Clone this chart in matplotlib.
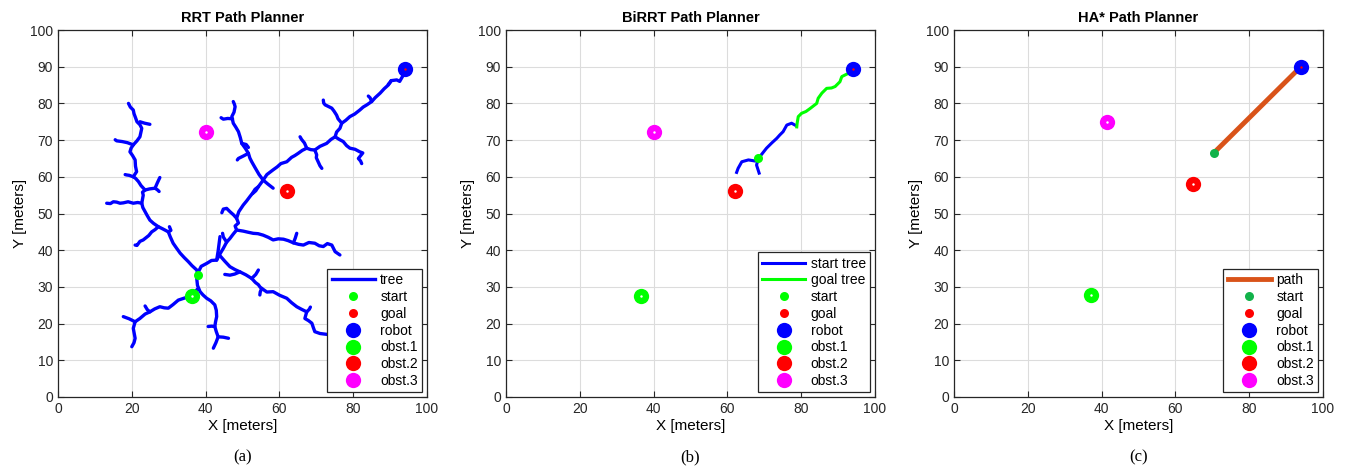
import numpy as np
import matplotlib.pyplot as plt
from matplotlib.lines import Line2D

plt.rcParams['font.family'] = ['Liberation Sans', 'DejaVu Sans']

# obstacle / robot / goal positions per planner
robot = [(94.0, 89.4), (94.1, 89.4), (94.0, 90.0)]
start = [(38.0, 33.2), (68.4, 65.0), (70.5, 66.6)]
goal = [(62.0, 56.0), (62.0, 56.0), (64.9, 58.1)]
obst1 = [(36.2, 27.6), (36.5, 27.5), (37.0, 27.8)]
obst2 = goal
obst3 = [(40.0, 72.2), (40.0, 72.2), (41.4, 75.0)]

# RRT tree branches (x list, y list)
rrt_branches = [
    # start -> north-west trunk
    ([38.0, 37.6, 36.3, 35.3, 34.2, 33.1, 32.1, 31.2, 30.4, 29.9, 28.4, 27.2, 25.9, 24.9, 24.2, 23.6, 23.0, 22.7, 23.1, 22.9,
      23.6, 22.5, 21.8, 21.0, 20.4, 21.3, 21.0, 20.9, 20.2, 19.5, 19.8, 20.4, 21.4, 22.2, 22.7, 22.2, 21.4, 20.9, 20.6, 20.4, 19.6, 19.1],
     [33.2, 34.6, 35.8, 36.9, 38.0, 39.2, 40.6, 41.9, 43.7, 45.0, 45.8, 46.4, 47.3, 48.2, 49.4, 50.5, 51.6, 52.8, 55.0, 55.8,
      56.4, 57.6, 58.7, 59.6, 60.0, 61.4, 62.9, 64.6, 65.8, 66.8, 67.8, 68.7, 69.8, 70.9, 73.2, 74.2, 75.0, 76.4, 77.2, 78.2, 79.0, 80.0]),
    ([27.2, 26.3, 25.4, 24.6, 23.1, 22.2, 21.4, 20.9], [46.4, 45.6, 45.0, 44.0, 42.8, 42.4, 41.3, 41.4]),
    ([29.9, 30.6, 30.2], [45.0, 45.4, 46.4]),
    ([22.7, 21.6, 20.4, 19.0, 17.7, 16.8, 15.9, 15.0, 14.2, 13.2], [52.8, 53.0, 52.8, 53.2, 52.9, 52.8, 53.1, 53.2, 52.7, 52.8]),
    ([23.6, 24.8, 26.3, 26.9, 27.6], [56.4, 56.7, 56.9, 58.3, 59.8]),
    ([26.3, 27.0, 27.4], [56.9, 56.4, 56.0]),
    ([20.4, 19.3, 18.6, 18.2], [60.0, 60.4, 60.5, 60.6]),
    ([20.4, 18.8, 17.4, 15.9, 15.5], [68.7, 69.3, 69.6, 69.8, 70.1]),
    ([22.2, 23.5, 24.9], [75.0, 74.6, 74.3]),
    # start -> south
    ([38.0, 37.6, 37.8, 38.5, 39.3, 40.3, 41.4, 42.5, 42.9, 43.0, 42.7, 42.5, 42.9, 43.4, 42.8, 42.1],
     [33.2, 32.3, 30.4, 28.7, 27.8, 26.9, 26.2, 25.1, 23.6, 21.9, 20.5, 19.2, 17.8, 16.4, 14.8, 13.3]),
    ([42.5, 41.6, 40.7], [19.2, 19.3, 19.2]),
    ([43.4, 44.8, 46.2], [16.4, 16.3, 16.0]),
    # through obst.1 -> south-west
    ([37.8, 36.2, 34.4, 32.6, 31.2, 29.9, 28.8, 27.6, 26.2, 24.9, 23.6, 22.2, 20.9, 19.3, 17.7],
     [29.4, 27.6, 27.0, 26.4, 25.2, 24.2, 24.3, 24.6, 24.0, 23.2, 22.6, 21.4, 20.5, 21.3, 21.9]),
    ([24.9, 24.2, 23.6], [23.2, 23.8, 24.8]),
    ([20.9, 20.4, 20.9, 20.6, 20.0], [20.5, 18.7, 16.0, 14.8, 13.7]),
    # start -> east, main trunk up to the robot
    ([38.0, 38.8, 40.3, 41.6, 43.0, 43.9, 44.8, 45.7, 46.6, 47.5, 48.4, 48.0, 48.9, 48.4, 49.0, 50.2, 51.1, 52.0, 52.7, 53.4,
      54.3, 55.1, 55.6, 56.6, 58.3, 59.4, 60.4, 62.0, 63.3, 64.2, 65.1, 66.2, 67.4, 68.5, 69.6, 71.0, 72.8, 74.0, 75.1, 75.5,
      76.4, 76.9, 78.0, 79.1, 80.4, 81.8, 82.7, 83.7, 85.0, 86.0, 87.3, 88.4, 89.5, 90.3, 91.8, 92.6, 93.4, 94.0],
     [34.0, 35.6, 36.4, 37.2, 37.3, 39.0, 40.5, 42.2, 43.2, 44.4, 45.5, 46.6, 47.4, 48.7, 50.5, 52.3, 53.4, 54.6, 55.5, 56.6,
      57.3, 58.4, 59.1, 60.6, 61.9, 62.7, 63.6, 64.1, 65.3, 65.8, 66.4, 67.2, 67.8, 67.4, 67.3, 68.3, 69.1, 70.2, 70.9, 72.2,
      73.2, 74.6, 75.4, 76.4, 77.1, 78.2, 79.0, 79.6, 80.5, 81.6, 82.8, 84.0, 85.0, 86.2, 86.4, 86.0, 87.4, 89.3]),
    ([43.0, 43.4, 43.9], [37.3, 39.8, 43.7]),
    ([48.4, 47.6, 46.6, 45.7, 44.8, 44.4], [48.7, 49.6, 50.5, 51.4, 51.2, 50.2]),
    ([45.7, 44.8, 44.6], [42.2, 43.6, 44.6]),
    # east branch
    ([48.4, 50.2, 51.5, 52.9, 54.2, 55.6, 57.0, 58.3, 59.7, 61.1, 62.4, 63.8, 65.2, 66.5, 68.0, 69.6, 70.8, 71.9, 73.0, 74.2, 75.1, 76.4],
     [45.5, 45.2, 44.9, 44.6, 44.5, 44.1, 43.5, 42.8, 43.1, 43.0, 42.6, 42.0, 41.6, 41.4, 42.1, 41.9, 41.2, 41.0, 41.8, 41.4, 39.6, 38.7]),
    ([63.8, 64.3, 64.7], [42.0, 43.3, 44.6]),
    # south-east branch
    ([43.9, 45.2, 46.6, 48.0, 49.3, 50.9, 52.5, 53.5, 54.3, 54.8, 55.2, 56.6, 58.3, 60.1, 62.0, 63.3, 64.7, 66.0, 67.4, 66.9,
      67.9, 68.8, 69.2, 69.6, 71.0, 72.6, 74.2, 76.0, 78.0],
     [38.5, 37.0, 35.5, 34.7, 34.1, 33.3, 32.3, 31.2, 30.6, 29.9, 29.6, 28.6, 28.7, 27.7, 26.9, 25.7, 24.6, 23.9, 23.2, 21.4,
      20.8, 20.1, 18.9, 17.8, 17.3, 17.1, 16.9, 16.3, 15.6]),
    ([49.3, 47.9, 46.6, 45.2], [34.1, 33.5, 33.2, 33.4]),
    ([52.5, 53.6, 54.3], [32.3, 33.4, 34.6]),
    ([55.2, 54.8, 54.7], [29.6, 28.6, 27.8]),
    ([67.4, 68.1, 68.4], [23.2, 23.9, 24.5]),
    # north-west branch from the trunk junction
    ([55.6, 54.5, 53.4, 52.5, 52.0, 51.6, 50.8, 49.8, 49.4, 48.9, 48.2, 47.5, 47.1, 47.7, 48.0, 47.8, 47.5],
     [59.1, 60.6, 62.5, 64.1, 65.1, 66.4, 67.7, 69.1, 70.7, 72.3, 73.5, 74.6, 76.4, 77.6, 79.1, 79.8, 80.5]),
    ([51.6, 50.3, 48.9, 48.6], [66.4, 65.7, 65.0, 64.6]),
    ([47.3, 46.0, 44.8, 44.2], [75.8, 75.9, 75.7, 76.1]),
    ([49.8, 51.0, 51.6], [69.1, 68.8, 68.0]),
    ([55.6, 56.9, 58.3], [59.1, 58.0, 56.9]),
    ([54.3, 53.6, 52.7], [57.3, 56.2, 55.4]),
    # branches near the robot trunk
    ([67.4, 66.8, 66.0, 65.6], [67.8, 69.2, 70.2, 70.9]),
    ([69.6, 70.1, 70.0, 70.5, 71.0, 71.5], [67.3, 66.0, 65.2, 64.1, 63.0, 62.3]),
    ([76.9, 75.9, 75.5, 74.8, 74.2, 73.2, 72.4, 72.0, 71.9], [74.6, 75.8, 76.8, 77.9, 78.7, 79.2, 79.6, 80.1, 80.9]),
    ([75.1, 76.2, 77.3, 78.2, 79.1, 80.5, 81.8, 82.6, 81.4, 82.0, 82.3], [70.9, 70.2, 69.6, 68.5, 67.8, 67.5, 66.8, 66.5, 65.0, 64.3, 63.6]),
    ([85.0, 84.6, 84.1], [80.5, 81.5, 82.0]),
    ([90.3, 89.9, 89.5], [86.2, 85.6, 85.2]),
]

# BiRRT trees
birrt_start_x = [78.3, 77.4, 76.1, 75.1, 74.2, 73.4, 72.0, 70.6, 69.5, 68.4, 67.5, 65.7, 63.9, 62.9, 62.5]
birrt_start_y = [74.1, 74.6, 74.1, 72.3, 71.4, 70.5, 69.2, 67.8, 66.4, 65.0, 64.3, 64.6, 64.1, 62.3, 61.2]
birrt_start_br_x = [68.4, 67.9, 68.6]
birrt_start_br_y = [65.0, 63.2, 61.0]
birrt_goal_x = [78.8, 78.9, 79.2, 80.1, 81.3, 82.4, 84.2, 84.6, 85.6, 86.9, 88.2, 89.2, 90.5, 91.0, 92.8, 94.1]
birrt_goal_y = [73.6, 74.6, 76.4, 77.3, 77.8, 78.6, 80.0, 81.4, 82.8, 84.1, 84.2, 84.6, 85.9, 87.3, 88.2, 89.4]

# HA* path
ha_path_x = [70.5, 94.0]
ha_path_y = [66.6, 90.0]

titles = ['RRT Path Planner', 'BiRRT Path Planner', 'HA* Path Planner']
captions = ['(a)', '(b)', '(c)']

fig = plt.figure(figsize=(13.47, 4.75), dpi=100)
lefts = [58 / 1347, 506 / 1347, 954 / 1347]
axes = [fig.add_axes([l, 78 / 475, 369 / 1347, 367 / 475]) for l in lefts]

big = 11
small = 6.5


def draw_points(ax, i, start_color):
    ax.plot(*start[i], 'o', color=start_color, ms=small, mec='none', zorder=5)
    ax.plot(*goal[i], 'o', color='red', ms=small, mec='none', zorder=4)
    ax.plot(*robot[i], 'o', color='blue', ms=big, mec='none', zorder=5)
    ax.plot(*obst1[i], 'o', color=(0, 1, 0), ms=big, mec='none', zorder=5)
    ax.plot(*obst2[i], 'o', color='red', ms=big, mec='none', zorder=5)
    ax.plot(*obst3[i], 'o', color='magenta', ms=big, mec='none', zorder=5)
    for p in (obst1[i], obst2[i], obst3[i]):
        ax.plot(*p, '.', color='white', ms=1.5, zorder=6)
    ax.plot(*robot[i], '.', color='red', ms=1.5, zorder=6)


def legend_handles(lines, start_color):
    hs = list(lines)
    hs.append(Line2D([], [], ls='none', marker='o', color=start_color, ms=small, mec='none', label='start'))
    hs.append(Line2D([], [], ls='none', marker='o', color='red', ms=small, mec='none', label='goal'))
    hs.append(Line2D([], [], ls='none', marker='o', color='blue', ms=big, mec='none', label='robot'))
    hs.append(Line2D([], [], ls='none', marker='o', color=(0, 1, 0), ms=big, mec='none', label='obst.1'))
    hs.append(Line2D([], [], ls='none', marker='o', color='red', ms=big, mec='none', label='obst.2'))
    hs.append(Line2D([], [], ls='none', marker='o', color='magenta', ms=big, mec='none', label='obst.3'))
    return hs


# (a) RRT
ax = axes[0]
for bx, by in rrt_branches:
    ax.plot(bx, by, color='blue', lw=2.4, solid_capstyle='round', zorder=3)
draw_points(ax, 0, (0, 1, 0))
lgA = legend_handles([Line2D([], [], color='blue', lw=2.4, label='tree')], (0, 1, 0))

# (b) BiRRT
ax = axes[1]
ax.plot(birrt_start_x, birrt_start_y, color='blue', lw=2.2, zorder=3)
ax.plot(birrt_start_br_x, birrt_start_br_y, color='blue', lw=2.2, zorder=3)
ax.plot(birrt_goal_x, birrt_goal_y, color=(0, 1, 0), lw=2.2, zorder=3)
draw_points(ax, 1, (0, 1, 0))
lgB = legend_handles([Line2D([], [], color='blue', lw=2.2, label='start tree'),
                      Line2D([], [], color=(0, 1, 0), lw=2.2, label='goal tree')], (0, 1, 0))

# (c) HA*
ax = axes[2]
ax.plot(ha_path_x, ha_path_y, color='#D95319', lw=3.5, zorder=3)
draw_points(ax, 2, '#12B24A')
lgC = legend_handles([Line2D([], [], color='#D95319', lw=3.5, label='path')], '#12B24A')

for ax, t, c, hs in zip(axes, titles, captions, [lgA, lgB, lgC]):
    ax.set_xlim(0, 100)
    ax.set_ylim(0, 100)
    ax.set_xticks(np.arange(0, 101, 20))
    ax.set_yticks(np.arange(0, 101, 10))
    ax.grid(True, color='#dcdcdc', lw=0.8)
    ax.set_axisbelow(True)
    ax.tick_params(direction='in', top=True, right=True, labelsize=10, length=4, colors='#262626')
    for s in ax.spines.values():
        s.set_color('#262626')
        s.set_linewidth(0.9)
    ax.set_title(t, fontsize=10.5, fontweight='bold', pad=6)
    ax.set_xlabel('X [meters]', fontsize=11, labelpad=2)
    ax.set_ylabel('Y [meters]', fontsize=11, labelpad=2)
    lg = ax.legend(handles=hs, loc='lower right', fontsize=10, fancybox=False, framealpha=1,
                   edgecolor='#262626', handlelength=3.1, borderpad=0.3, labelspacing=0.2,
                   handletextpad=0.4, borderaxespad=0.35)
    lg.get_frame().set_linewidth(0.9)
    lg.set_zorder(10)
    pos = ax.get_position()
    fig.text(pos.x0 + pos.width / 2, 0.02, c, ha='center', va='bottom', fontsize=12,
             family='Liberation Serif')

plt.savefig('out.png', dpi=100)
